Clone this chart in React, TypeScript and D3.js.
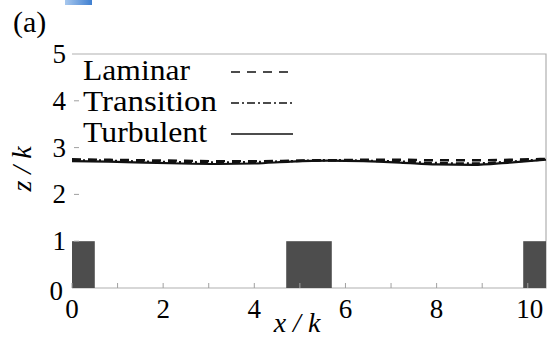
import { useEffect, useRef } from 'react'
import * as d3 from 'd3'

const xs = [0, 0.8, 1.6, 2.4, 3.2, 4.0, 4.8, 5.6, 6.4, 7.2, 8.0, 8.8, 9.6, 10.4]
const laminar = [2.75, 2.74, 2.73, 2.72, 2.71, 2.71, 2.72, 2.73, 2.74, 2.74, 2.73, 2.73, 2.74, 2.76]
const transition = [2.73, 2.72, 2.70, 2.69, 2.68, 2.69, 2.71, 2.73, 2.72, 2.70, 2.67, 2.66, 2.70, 2.75]
const turbulent = [2.71, 2.70, 2.68, 2.66, 2.65, 2.66, 2.70, 2.72, 2.71, 2.68, 2.64, 2.63, 2.68, 2.74]

// roughness elements: [start, end] in x/k, height in z/k
const blocks = [[-0.5, 0.5], [4.7, 5.7], [9.9, 10.9]]
const blockH = 1

const xTicks = [0, 2, 4, 6, 8, 10]
const xMinor = [1, 3, 5, 7, 9]
const yTicks = [0, 1, 2, 3, 4, 5]

const SERIES = [
  { name: 'Laminar', vals: laminar, dash: '9,7', w: 107 },
  { name: 'Transition', vals: transition, dash: '8,3,2,3', w: 134 },
  { name: 'Turbulent', vals: turbulent, dash: null, w: 124 },
]

const FONT = 'Liberation Serif, Tinos, Nimbus Roman, FreeSerif, Times New Roman, Times, DejaVu Serif, Noto Serif, serif'

export default function App() {
  const svgRef = useRef<SVGSVGElement>(null)

  useEffect(() => {
    const el = svgRef.current
    if (!el) return
    const W = 550, H = 338
    const pad = { l: 72, r: 4, t: 54, b: 50 }
    const svg = d3.select(el)
    svg.selectAll('*').remove()

    const x = d3.scaleLinear().domain([0, 10.4]).range([pad.l, W - pad.r])
    const y = d3.scaleLinear().domain([0, 5]).range([H - pad.b, pad.t])

    // little blue artifact at the top
    const grad = svg.append('defs').append('linearGradient').attr('id', 'bl')
    grad.append('stop').attr('offset', '0%').attr('stop-color', '#a8c8ee')
    grad.append('stop').attr('offset', '100%').attr('stop-color', '#3f7fd0')
    svg.append('rect').attr('x', 65).attr('y', 0).attr('width', 27).attr('height', 5).attr('fill', 'url(#bl)')

    svg.append('text').attr('x', 13).attr('y', 32)
      .attr('font-family', FONT).attr('font-size', 30).text('(a)')

    // frame
    svg.append('path')
      .attr('d', `M${x(0)},${y(5)}H${x(10.4)}V${y(0)}H${x(0)}`)
      .attr('fill', 'none').attr('stroke', '#b0b0b0').attr('stroke-width', 1.2)

    const clip = svg.append('clipPath').attr('id', 'pc')
    clip.append('rect').attr('x', x(0)).attr('y', y(5)).attr('width', x(10.4) - x(0)).attr('height', y(0) - y(5))

    svg.append('g').attr('clip-path', 'url(#pc)')
      .selectAll('rect').data(blocks).join('rect')
      .attr('x', d => x(d[0]))
      .attr('y', y(blockH))
      .attr('width', d => x(d[1]) - x(d[0]))
      .attr('height', y(0) - y(blockH))
      .attr('fill', '#4d4d4d')

    // x ticks (inward)
    svg.append('g').selectAll('line').data([...xTicks, ...xMinor]).join('line')
      .attr('x1', d => x(d)).attr('x2', d => x(d))
      .attr('y1', y(0)).attr('y2', y(0) - 5)
      .attr('stroke', '#a0a0a0').attr('stroke-width', 1)

    svg.append('g').selectAll('text').data(xTicks).join('text')
      .attr('x', d => x(d) + (d === 10 ? 2 : 0))
      .attr('y', 318)
      .attr('text-anchor', 'middle')
      .attr('font-family', FONT).attr('font-size', 27)
      .text(d => d)

    // y ticks
    svg.append('g').selectAll('line').data(yTicks.filter(d => d > 0 && d < 5)).join('line')
      .attr('x1', x(0) + 2).attr('x2', x(0) + 7)
      .attr('y1', d => y(d)).attr('y2', d => y(d))
      .attr('stroke', '#a0a0a0').attr('stroke-width', 1)

    svg.append('g').selectAll('text').data(yTicks).join('text')
      .attr('x', d => (d === 0 ? 63 : 66))
      .attr('y', d => y(d) + (d === 0 ? 12 : 9))
      .attr('text-anchor', 'end')
      .attr('font-family', FONT).attr('font-size', 27)
      .text(d => d)

    // axis titles
    svg.append('text')
      .attr('transform', `translate(31,169) rotate(-90)`)
      .attr('text-anchor', 'middle')
      .attr('font-family', FONT).attr('font-style', 'italic').attr('font-size', 28)
      .text('z / k')

    svg.append('text')
      .attr('x', 297).attr('y', 332)
      .attr('text-anchor', 'middle')
      .attr('font-family', FONT).attr('font-style', 'italic').attr('font-size', 28)
      .text('x / k')

    // profiles
    const line = d3.line<number>()
      .x((_, i) => x(xs[i]))
      .y(d => y(d))
      .curve(d3.curveMonotoneX)

    svg.append('g').selectAll('path').data(SERIES).join('path')
      .attr('d', d => line(d.vals))
      .attr('fill', 'none')
      .attr('stroke', '#111')
      .attr('stroke-width', d => (d.dash ? 2.4 : 2.2))
      .attr('stroke-dasharray', d => d.dash)

    // legend
    const lg = svg.append('g')
    SERIES.forEach((s, i) => {
      const by = 80 + i * 31
      lg.append('text').attr('x', 83).attr('y', by)
        .attr('textLength', s.w).attr('lengthAdjust', 'spacingAndGlyphs')
        .attr('font-family', FONT).attr('font-size', 29).text(s.name)
      lg.append('line')
        .attr('x1', 231).attr('x2', 293)
        .attr('y1', by - 8).attr('y2', by - 8)
        .attr('stroke', '#111').attr('stroke-width', 1.6)
        .attr('stroke-dasharray', s.dash)
    })
  }, [])

  return (
    <svg ref={svgRef} width={550} height={338}
      style={{ position: 'absolute', left: 0, top: 0, background: '#fff' }} />
  )
}
